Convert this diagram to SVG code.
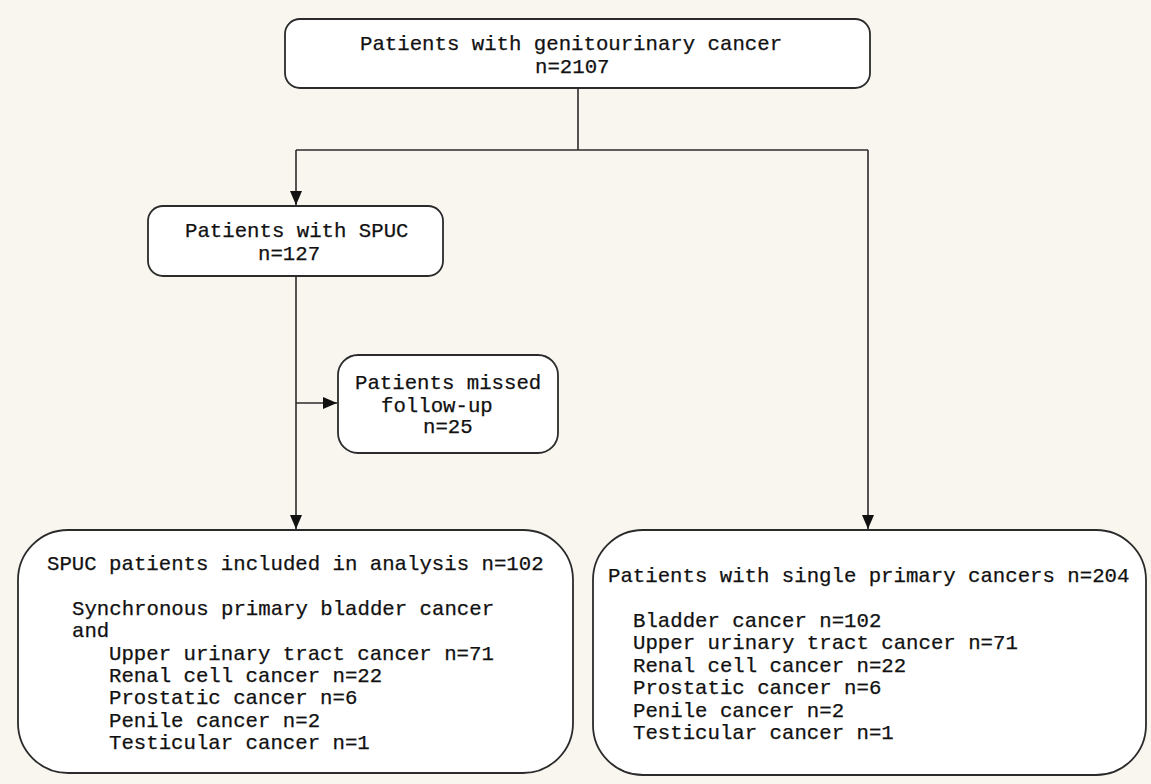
<svg xmlns="http://www.w3.org/2000/svg" width="1151" height="784" viewBox="0 0 1151 784">
  <style>
    .box { fill: #ffffff; stroke: #2b2b2b; stroke-width: 1.8; }
    .line { fill: none; stroke: #2b2b2b; stroke-width: 1.6; }
    text { font-family: "Liberation Mono", "DejaVu Sans Mono", monospace; font-size: 20.7px; fill: #111111; stroke: #111111; stroke-width: 0.25; white-space: pre; }
  </style>
  <defs>
    <marker id="arrow" viewBox="0 0 14 12" refX="14" refY="6" markerWidth="14" markerHeight="12" markerUnits="userSpaceOnUse" orient="auto">
      <path d="M0,0 L14,6 L0,12 Z" fill="#111111"/>
    </marker>
  </defs>
  <rect x="0" y="0" width="1151" height="784" fill="#f9f6f0"/>

  <g id="connectors">
    <path class="line" d="M578,88 V150"/>
    <path class="line" d="M296,150 H868"/>
    <path class="line" d="M296,150 V205" marker-end="url(#arrow)"/>
    <path class="line" d="M868,150 V529" marker-end="url(#arrow)"/>
    <path class="line" d="M296,276 V529" marker-end="url(#arrow)"/>
    <path class="line" d="M296,403 H337" marker-end="url(#arrow)"/>
  </g>

  <g id="node-genitourinary">
    <rect class="box" x="285" y="19" width="585" height="69" rx="15" ry="15"/>
    <text x="360" y="50">Patients with genitourinary cancer</text>
    <text x="535" y="73">n=2107</text>
  </g>

  <g id="node-spuc">
    <rect class="box" x="148" y="206" width="295" height="70" rx="15" ry="15"/>
    <text x="185" y="237">Patients with SPUC</text>
    <text x="258" y="260">n=127</text>
  </g>

  <g id="node-missed">
    <rect class="box" x="338" y="355" width="220" height="98" rx="20" ry="20"/>
    <text x="355" y="389">Patients missed</text>
    <text x="381" y="412">follow-up</text>
    <text x="423" y="433">n=25</text>
  </g>

  <g id="node-included">
    <rect class="box" x="18" y="530" width="555" height="243" rx="50" ry="50"/>
    <text x="47" y="570">SPUC patients included in analysis n=102</text>
    <text x="72" y="615">Synchronous primary bladder cancer</text>
    <text x="72" y="637">and</text>
    <text x="109" y="660">Upper urinary tract cancer n=71</text>
    <text x="109" y="682">Renal cell cancer n=22</text>
    <text x="109" y="704">Prostatic cancer n=6</text>
    <text x="109" y="727">Penile cancer n=2</text>
    <text x="109" y="749">Testicular cancer n=1</text>
  </g>

  <g id="node-single">
    <rect class="box" x="593" y="530" width="553" height="245" rx="50" ry="50"/>
    <text x="608" y="582">Patients with single primary cancers n=204</text>
    <text x="633" y="627">Bladder cancer n=102</text>
    <text x="633" y="649">Upper urinary tract cancer n=71</text>
    <text x="633" y="672">Renal cell cancer n=22</text>
    <text x="633" y="694">Prostatic cancer n=6</text>
    <text x="633" y="717">Penile cancer n=2</text>
    <text x="633" y="739">Testicular cancer n=1</text>
  </g>
</svg>
